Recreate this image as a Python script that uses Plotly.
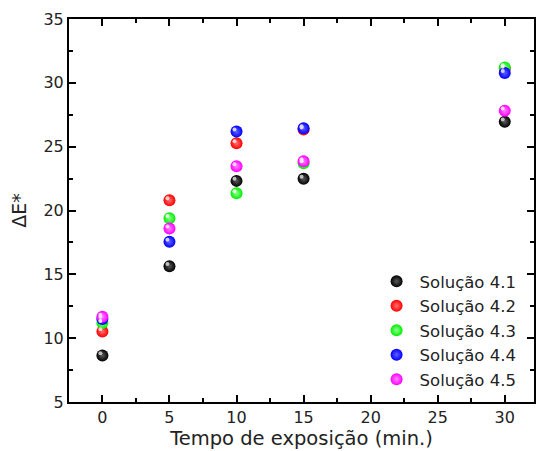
import plotly.graph_objects as go

# Exposure times (min.) and colour difference for each solution
tempo = [0, 5, 10, 15, 30]
series_names = ["Solução 4.1", "Solução 4.2", "Solução 4.3", "Solução 4.4", "Solução 4.5"]
de_41 = [8.65, 15.64, 22.32, 22.48, 26.96]
de_42 = [10.53, 20.80, 25.27, 26.35, 31.10]
de_43 = [11.18, 19.40, 21.35, 23.70, 31.21]
de_44 = [11.50, 17.55, 26.18, 26.44, 30.77]
de_45 = [11.68, 18.59, 23.47, 23.86, 27.82]

series_values = [de_41, de_42, de_43, de_44, de_45]
base_colors = ["#000000", "#ff0000", "#00ee00", "#0000ff", "#ff00ff"]
shade_colors = ["#5a5a5a", "#ff7070", "#90ff90", "#6060ff", "#ff80ff"]
glare_colors = ["#d0d0d0", "#ffe0e0", "#f0fff0", "#e0e0ff", "#ffe8ff"]

x_ticks = [0, 5, 10, 15, 20, 25, 30]
y_ticks = [5, 10, 15, 20, 25, 30, 35]

X_RANGE = [-2.49, 32.18]
Y_RANGE = [5, 35]
# glare spot sits a couple of pixels up and to the left of each ball
GLARE_DX = 0.15
GLARE_DY = 0.16

FONT = "DejaVu Sans, Verdana, sans-serif"

fig = go.Figure()
for name, vals, bc, sc, gc in zip(series_names, series_values, base_colors, shade_colors, glare_colors):
    fig.add_trace(go.Scatter(
        x=tempo, y=vals, mode="markers", name=name,
        marker=dict(size=12, color=bc, line=dict(width=0),
                    gradient=dict(type="radial", color=sc)),
    ))
    fig.add_trace(go.Scatter(
        x=tempo, y=vals, mode="markers", showlegend=False, hoverinfo="skip",
        xaxis="x2", yaxis="y2",
        marker=dict(size=4, color=gc, line=dict(width=0), opacity=0.9),
    ))

axis_common = dict(
    showline=True, linecolor="black", linewidth=2, mirror="ticks",
    ticks="inside", ticklen=7, tickwidth=1.5, tickcolor="black",
    showgrid=False, zeroline=False,
    tickfont=dict(family=FONT, size=16, color="#222"),
    minor=dict(ticks="inside", ticklen=4, tickwidth=1.5, tickcolor="black", showgrid=False),
)

fig.update_layout(
    xaxis=dict(
        range=X_RANGE, tickvals=x_ticks, minor_dtick=2.5,
        title=dict(text="Tempo de exposição (min.)", font=dict(family=FONT, size=19.5, color="#222"), standoff=4),
        **axis_common,
    ),
    yaxis=dict(
        range=Y_RANGE, tickvals=y_ticks, minor_dtick=2.5,
        title=dict(text="ΔE*", font=dict(family=FONT, size=19, color="#222"), standoff=12),
        **axis_common,
    ),
    xaxis2=dict(range=[X_RANGE[0] + GLARE_DX, X_RANGE[1] + GLARE_DX], overlaying="x",
                visible=False, showgrid=False, zeroline=False),
    yaxis2=dict(range=[Y_RANGE[0] - GLARE_DY, Y_RANGE[1] - GLARE_DY], overlaying="y",
                visible=False, showgrid=False, zeroline=False),
    width=536, height=451,
    margin=dict(l=69, r=0, t=19, b=49),
    plot_bgcolor="white", paper_bgcolor="white",
    showlegend=True,
    legend=dict(x=0.655, y=0.36, xanchor="left", yanchor="top",
                bgcolor="rgba(0,0,0,0)", borderwidth=0,
                font=dict(family=FONT, size=16.5, color="#222"),
                itemwidth=36, tracegroupgap=0),
)

fig.write_html("out.html")
